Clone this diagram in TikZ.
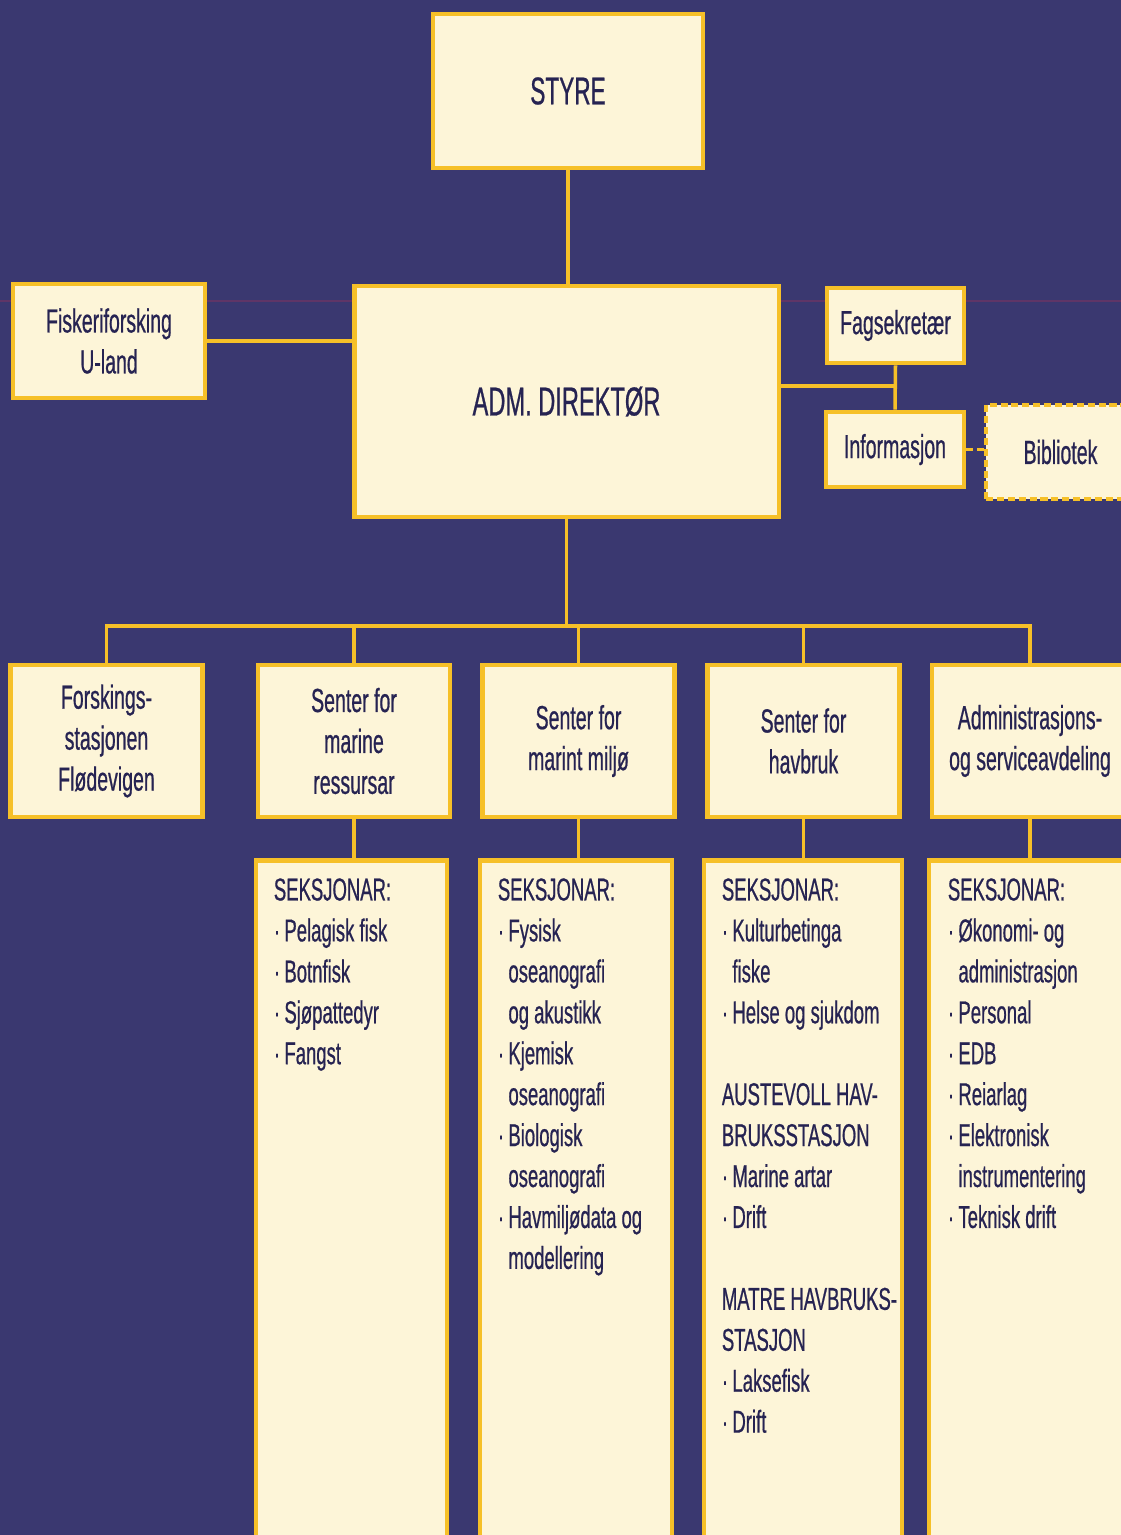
\documentclass[tikz,border=0pt]{standalone}
\usepackage{fontspec}
\setmainfont{Liberation Sans}[FakeStretch=0.585, FakeBold=0.6]
\definecolor{imrblue}{RGB}{58,56,112}
\definecolor{imrcream}{RGB}{253,245,216}
\definecolor{imrgold}{RGB}{246,192,40}
\definecolor{imrink}{RGB}{38,35,82}
\definecolor{imrfold}{RGB}{112,52,100}
\usetikzlibrary{calc}
\newcommand{\pkt}{\makebox[6pt][l]{·}}
\newcommand{\ind}{\hspace*{6pt}}

\begin{document}
\begin{tikzpicture}[x=0.02cm, y=-0.02cm,
    unitbox/.style={draw=imrgold, line width=2.8pt, fill=imrcream, text=imrink, align=center, inner sep=0pt, font=\fontsize{19}{23.3}\selectfont},
    rowbox/.style={unitbox, minimum width=3.84cm, minimum height=3.04cm},
    seksbox/.style={draw=imrgold, line width=2.8pt, fill=imrcream, minimum width=#1, minimum height=14.2cm, anchor=north, inner sep=0pt},
    seks/.style={anchor=north west, align=left, inner sep=0pt, text=imrink, font=\fontsize{18}{23.3}\selectfont},
    link/.style={draw=imrgold, line width=2pt}]
    % Page
    \fill[imrblue] (0,0) rectangle (1121,1535);
    \useasboundingbox (0,0) rectangle (1121,1535);
    \clip (0,0) rectangle (1121,1535);
    \draw[imrfold, line width=0.6pt, opacity=0.7] (0,301) -- (1121,301);

    % Top
    \node[unitbox, minimum width=5.4cm, minimum height=3.08cm, font=\fontsize{22}{24}\selectfont] (styre) at (568,91) {STYRE};
    \node[unitbox, minimum width=8.5cm, minimum height=4.62cm, font=\fontsize{23}{26}\selectfont] (direktor) at (566.5,401.5) {ADM. DIREKTØR};
    \node[unitbox, minimum width=3.84cm, minimum height=2.28cm] (uland) at (109,341) {Fiskeriforsking\\U-land};

    % Staff
    \node[unitbox, minimum width=2.74cm, minimum height=1.5cm] (fagsek) at (895.5,325.5) {Fagsekretær};
    \node[unitbox, minimum width=2.76cm, minimum height=1.5cm] (info) at (895,449.5) {Informasjon};
    \node[unitbox, dash pattern=on 4pt off 2.2pt, minimum width=2.98cm, minimum height=1.88cm] (bibliotek) at (1060.5,452) {Bibliotek};

    % Units
    \node[rowbox] (flodevigen) at (106.5,741) {Forskings-\\stasjonen\\Flødevigen};
    \node[rowbox] (ressurs) at (354,741) {Senter for\\marine\\ressursar};
    \node[rowbox] (miljo) at (578.5,741) {Senter for\\marint miljø};
    \node[rowbox] (havbruk) at (803.5,741) {Senter for\\havbruk};
    \node[rowbox, minimum width=3.92cm] (admserv) at (1030,741) {Administrasjons-\\og serviceavdeling};

    % Sections
    \node[seksbox=3.82cm] (secres) at (351.5,858) {};
    \node[seksbox=3.84cm] (secmil) at (576,858) {};
    \node[seksbox=3.96cm] (sechav) at (803,858) {};
    \node[seksbox=4.02cm] (secadm) at (1029.5,858) {};

    \node[seks] (restxt) at ($(secres.north west)+(20,20)$) {SEKSJONAR:\\
        \pkt Pelagisk fisk\\ \pkt Botnfisk\\ \pkt Sjøpattedyr\\ \pkt Fangst};
    \node[seks] (miltxt) at ($(secmil.north west)+(20,20)$) {SEKSJONAR:\\
        \pkt Fysisk\\ \ind oseanografi\\ \ind og akustikk\\
        \pkt Kjemisk\\ \ind oseanografi\\
        \pkt Biologisk\\ \ind oseanografi\\
        \pkt Havmiljødata og\\ \ind modellering};
    \node[seks] (havtxt) at ($(sechav.north west)+(20,20)$) {SEKSJONAR:\\
        \pkt Kulturbetinga\\ \ind fiske\\ \pkt Helse og sjukdom\\[23.3pt]
        AUSTEVOLL HAV-\\ BRUKSSTASJON\\ \pkt Marine artar\\ \pkt Drift\\[23.3pt]
        MATRE HAVBRUKS-\\ STASJON\\ \pkt Laksefisk\\ \pkt Drift};
    \node[seks] (admtxt) at ($(secadm.north west)+(21,20)$) {SEKSJONAR:\\
        \pkt Økonomi- og\\ \ind administrasjon\\ \pkt Personal\\ \pkt EDB\\
        \pkt Reiarlag\\ \pkt Elektronisk\\ \ind instrumentering\\ \pkt Teknisk drift};

    % Lines
    \draw[link] (styre.south) -- (styre.south |- direktor.north);
    \draw[link] (uland.east) -- (uland.east -| direktor.west);
    \coordinate (staffjoin) at (895,386);
    \draw[link] (direktor.east |- staffjoin) -- (staffjoin);
    \draw[link] (fagsek.south) -- (info.north);
    \draw[link, dash pattern=on 4pt off 2.2pt] (info.east) -- (info.east -| bibliotek.west);

    \coordinate (bus) at (566,626);
    \draw[link] (direktor.south) -- (direktor.south |- bus);
    \draw[link] (flodevigen.north) |- (bus) -| (admserv.north);
    \foreach \unit in {ressurs, miljo, havbruk}
        \draw[link] (\unit.north |- bus) -- (\unit.north);
    \foreach \unit/\sek in {ressurs/secres, miljo/secmil, havbruk/sechav, admserv/secadm}
        \draw[link] (\unit.south) -- (\unit.south |- \sek.north);
\end{tikzpicture}
\end{document}
